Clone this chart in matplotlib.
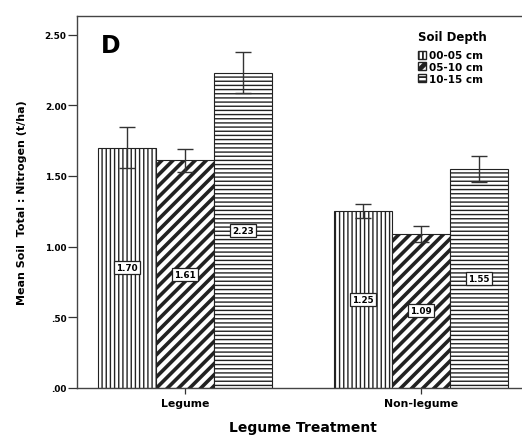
import matplotlib
matplotlib.use("Agg")
import matplotlib.pyplot as plt
import numpy as np
from matplotlib.patches import Patch

plt.rcParams["font.family"] = ["DejaVu Sans"]
plt.rcParams["font.weight"] = "bold"

groups = ["Legume", "Non-legume"]
depths = ["00-05 cm", "05-10 cm", "10-15 cm"]
means = {
    "00-05 cm": [1.70, 1.25],
    "05-10 cm": [1.61, 1.09],
    "10-15 cm": [2.23, 1.55],
}
errors = {
    "00-05 cm": [0.145, 0.05],
    "05-10 cm": [0.08, 0.055],
    "10-15 cm": [0.145, 0.09],
}
hatches = {"00-05 cm": "||||", "05-10 cm": "///", "10-15 cm": "----"}
hatch_lw = {"00-05 cm": 1.0, "05-10 cm": 2.6, "10-15 cm": 1.0}


def set_hlw(patch, lw):
    try:
        patch.set_hatch_linewidth(lw)
    except AttributeError:
        pass


fig = plt.figure(figsize=[5.22, 4.39], dpi=100)
ax = fig.add_axes([0.1475, 0.114, 0.866, 0.847])

x = np.arange(len(groups))
width = 0.246
for k, d in enumerate(depths):
    pos = x + (k - 1) * width
    bars = ax.bar(pos, means[d], width, color="white", edgecolor="#222222",
                  linewidth=0.8, hatch=hatches[d], zorder=2)
    for b in bars:
        set_hlw(b, hatch_lw[d])
    ax.errorbar(pos, means[d], yerr=errors[d], fmt="none", ecolor="#333333",
                elinewidth=1.0, capsize=5.5, capthick=1.0, zorder=3)
    for p, v in zip(pos, means[d]):
        ax.text(p, v / 2, f"{v:.2f}", ha="center", va="center", fontsize=6.3,
                fontweight="bold", zorder=4,
                bbox=dict(boxstyle="square,pad=0.22", facecolor="white",
                          edgecolor="#222222", linewidth=0.9))

ax.set_xlim(-0.458, 1.458)
ax.set_ylim(0, 2.63)
ax.set_yticks([0, 0.5, 1.0, 1.5, 2.0, 2.5],
              labels=[".00", ".50", "1.00", "1.50", "2.00", "2.50"])
ax.set_xticks(x, labels=groups)
ax.tick_params(axis="y", labelsize=6.4, length=6.5, width=0.9, color="#333333", pad=1)
ax.tick_params(axis="x", labelsize=7.8, length=4, width=0.9, color="#333333", pad=3)
for lab in ax.get_xticklabels() + ax.get_yticklabels():
    lab.set_fontweight("bold")

for side in ["left", "bottom", "top"]:
    ax.spines[side].set_color("#444444")
    ax.spines[side].set_linewidth(1.0)
ax.spines["right"].set_visible(False)

ax.set_ylabel("Mean Soil  Total : Nitrogen (t/ha)", fontsize=8, fontweight="bold", labelpad=13)
ax.set_xlabel("Legume Treatment", fontsize=10, fontweight="bold", labelpad=9)

ax.text(0.053, 0.922, "D", transform=ax.transAxes, fontsize=17, fontweight="bold",
        va="center", ha="left")

# legend title drawn separately to get the larger gap above the entries
ax.text(0.754, 0.944, "Soil Depth", transform=ax.transAxes, fontsize=8.5,
        fontweight="bold", va="center", ha="left")

handles = []
for d in depths:
    h = Patch(facecolor="white", edgecolor="#222222", hatch=hatches[d], label=d)
    handles.append(h)
leg = ax.legend(handles=handles, loc="upper left",
                bbox_to_anchor=(0.739, 0.928), frameon=False, fontsize=7.5,
                handlelength=0.75, handleheight=0.8, handletextpad=0.3,
                labelspacing=0.18, borderpad=0.2)
for t in leg.get_texts():
    t.set_fontweight("bold")
for p, d in zip(leg.get_patches(), depths):
    set_hlw(p, hatch_lw[d] * 1.3)

fig.savefig("out.png", dpi=100)
